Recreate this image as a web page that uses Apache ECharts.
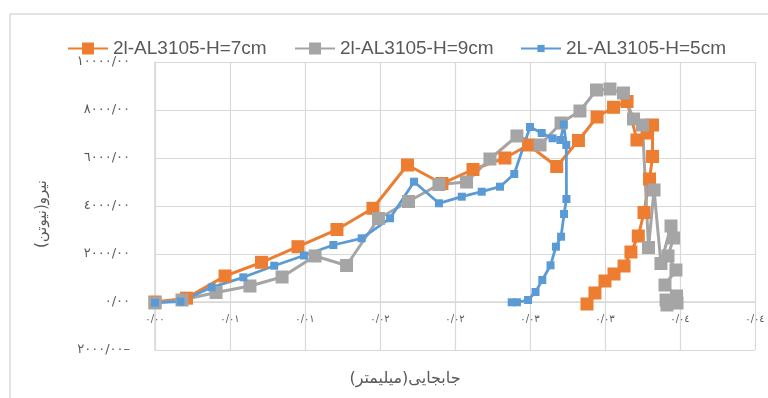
<!DOCTYPE html>
<html>
<head>
<meta charset="utf-8">
<script src="https://cdn.jsdelivr.net/npm/echarts@6/dist/echarts.min.js"></script>
<style>
  html, body { margin: 0; padding: 0; background: #ffffff; }
  #chart { width: 768px; height: 398px; }
</style>
</head>
<body>
<div id="chart"></div>
<script>
// Load–displacement curves for the three specimens
const seriesNames = ['2l-AL3105-H=7cm', '2l-AL3105-H=9cm', '2L-AL3105-H=5cm'];

const dispH7 = [0, 0.0021, 0.00467, 0.0071, 0.00953, 0.01213, 0.01453, 0.01683, 0.01913, 0.0212,
  0.02333, 0.0249, 0.02678, 0.02823, 0.02947, 0.03057, 0.03147, 0.03213, 0.0328, 0.03317,
  0.03317, 0.03297, 0.0326, 0.03222, 0.03173, 0.03127, 0.0306, 0.03, 0.02933, 0.0288];
const forceH7 = [0, 160, 1083, 1654, 2304, 3020, 3904, 5708, 4937, 5521,
  6000, 6542, 5646, 6729, 7708, 8113, 8354, 6750, 7040, 7375,
  6063, 5125, 3729, 2750, 2083, 1500, 1167, 875, 375, -83];

const dispH9 = [0, 0.0018, 0.00407, 0.00633, 0.00847, 0.01067, 0.01277, 0.0149, 0.0169, 0.01893,
  0.02077, 0.02233, 0.02413, 0.02567, 0.02707, 0.02833, 0.02943, 0.03033, 0.03123, 0.0319,
  0.0325, 0.0329, 0.03327, 0.03373, 0.0344, 0.03457, 0.0342, 0.03473, 0.034, 0.03477,
  0.03407, 0.0348, 0.03413];
const forceH9 = [-40, 83, 396, 667, 1042, 1917, 1521, 3479, 4188, 4896,
  5000, 5958, 6917, 6542, 7458, 7958, 8833, 8875, 8708, 7625,
  7375, 2271, 4667, 1604, 3167, 2667, 1917, 1333, 708, 250,
  83, -42, -125];

const dispH5 = [0, 0.0017, 0.00378, 0.00589, 0.00795, 0.00993, 0.01189, 0.01378, 0.01567, 0.01727,
  0.01893, 0.02045, 0.02178, 0.023, 0.02395, 0.025, 0.02578, 0.0265, 0.02703, 0.02725,
  0.02742, 0.02743, 0.02727, 0.02707, 0.02673, 0.02637, 0.02582, 0.02537, 0.02487, 0.02413,
  0.02378];
const forceH5 = [-30, 20, 612, 1029, 1512, 1937, 2375, 2654, 3488, 5013,
  4113, 4388, 4596, 4804, 5333, 7292, 7042, 6821, 6750, 7396,
  6542, 4292, 3667, 2721, 2304, 1529, 917, 417, 83, -12,
  -12];

// Axis ranges and the tick labels printed on them
const xMin = 0, xMax = 0.04, xStep = 0.005;
const yMin = -2000, yMax = 10000, yStep = 2000;
const xTickLabels = ['٠/٠٠', '٠/٠١', '٠/٠١', '٠/٠٢', '٠/٠٢', '٠/٠٣', '٠/٠٣', '٠/٠٤', '٠/٠٤'];
const yTickLabels = ['٢٠٠٠/٠٠–', '٠/٠٠', '٢٠٠٠/٠٠', '٤٠٠٠/٠٠', '٦٠٠٠/٠٠', '٨٠٠٠/٠٠', '١٠٠٠٠/٠٠'];
const xTitle = 'جابجایی(میلیمتر)';
const yTitle = 'نیرو(نیوتن)';

const colors = ['#ED7D31', '#A5A5A5', '#5B9BD5'];

function pairs(xs, ys) {
  return xs.map((x, i) => [x, ys[i]]);
}

const gridColor = '#d9d9d9';
const textColor = '#595959';
const arabicFont = '"DejaVu Sans", "Noto Sans", sans-serif';

// Plot box inside the 768x398 canvas
const gridBox = { left: 155, right: 13, top: 62, bottom: 48 };
const plotHeight = 398 - gridBox.top - gridBox.bottom;
// lift the horizontal axis from the bottom edge up to the zero-force line
const xAxisLift = -plotHeight * (0 - yMin) / (yMax - yMin);

const chart = echarts.init(document.getElementById('chart'), null, { renderer: 'canvas' });

function legendFor(i, left, itemHeight) {
  return {
    data: [seriesNames[i]],
    left: left,
    top: 34,
    itemWidth: 40,
    itemHeight: itemHeight,
    itemGap: 8,
    textStyle: { color: textColor, fontSize: 19, fontFamily: '"Liberation Sans", Arial, sans-serif' },
    selectedMode: false
  };
}

chart.setOption({
  animation: false,
  backgroundColor: '#ffffff',
  color: colors,
  legend: [
    legendFor(0, 62, 15),
    legendFor(1, 289, 15),
    legendFor(2, 515, 9)
  ],
  grid: Object.assign({ containLabel: false, outerBoundsMode: 'none' }, gridBox),
  xAxis: {
    type: 'value',
    min: xMin, max: xMax, interval: xStep,
    offset: xAxisLift,
    axisLine: { onZero: false, lineStyle: { color: gridColor, width: 1.5 } },
    axisTick: { show: false },
    splitLine: { show: true, lineStyle: { color: gridColor, width: 1.2 } },
    axisLabel: {
      color: textColor, fontSize: 10, fontFamily: arabicFont, margin: 12,
      formatter: v => xTickLabels[Math.round((v - xMin) / xStep)]
    },
    name: xTitle,
    nameLocation: 'middle',
    nameGap: 69,
    nameTextStyle: { color: textColor, fontSize: 16, fontFamily: arabicFont, padding: [0, 100, 0, 0] }
  },
  yAxis: {
    type: 'value',
    min: yMin, max: yMax, interval: yStep,
    axisLine: { show: true, onZero: false, lineStyle: { color: gridColor, width: 1.5 } },
    axisTick: { show: false },
    splitLine: { show: true, lineStyle: { color: gridColor, width: 1.2 } },
    axisLabel: {
      color: textColor, fontSize: 13, fontFamily: arabicFont, margin: 25,
      formatter: v => yTickLabels[Math.round((v - yMin) / yStep)]
    },
    name: yTitle,
    nameLocation: 'middle',
    nameRotate: 90,
    nameGap: 105,
    nameTextStyle: { color: textColor, fontSize: 15, fontFamily: arabicFont, padding: [0, 16, 0, 0] }
  },
  graphic: [
    {
      type: 'polyline',
      silent: true,
      shape: { points: [[10, 398], [10, 14], [768, 14]] },
      style: { stroke: '#d9d9d9', lineWidth: 1.5, fill: null }
    }
  ],
  series: [
    {
      name: seriesNames[0], type: 'line', data: pairs(dispH7, forceH7),
      symbol: 'rect', symbolSize: 13, lineStyle: { width: 3 },
      itemStyle: { color: colors[0] }
    },
    {
      name: seriesNames[1], type: 'line', data: pairs(dispH9, forceH9),
      symbol: 'rect', symbolSize: 13, lineStyle: { width: 3 },
      itemStyle: { color: colors[1] }
    },
    {
      name: seriesNames[2], type: 'line', data: pairs(dispH5, forceH5),
      symbol: 'rect', symbolSize: 8, lineStyle: { width: 2.8 },
      itemStyle: { color: colors[2] }
    }
  ]
});
</script>
</body>
</html>
